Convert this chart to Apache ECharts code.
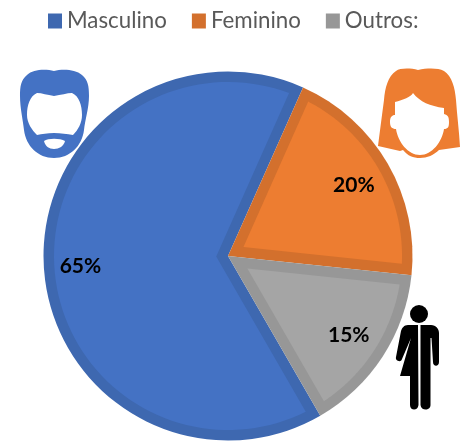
<!DOCTYPE html>
<html><head><meta charset="utf-8">
<style>html,body{margin:0;padding:0;background:#fff}#c{width:466px;height:441px}</style>
<script src="https://cdn.jsdelivr.net/npm/echarts@6/dist/echarts.min.js"></script>
</head><body><div id="c"></div>
<script>
const categories = ['Masculino','Feminino','Outros:'];
const values = [65,20,15];
const edgeColors = ['#3e68b0','#d3702d','#979797'];
const fillColors = ['#4472c4','#ed7d31','#a5a5a5'];
const labelNudges = [[1,2],[-3,4],[-4,-2]];

const CX = 228, CY = 256, R = 184.5, INSET = 10.5, START = 150;
const total = values.reduce((a,b)=>a+b,0);
const rad = d => (d-90)*Math.PI/180;
function startOf(i){ let s = START; for(let k=0;k<i;k++) s += values[k]/total*360; return s; }
function insetPoints(i){
  const a0 = startOf(i), span = values[i]/total*360, half = span/2;
  const r = R-INSET, da = Math.asin(INSET/r)*180/Math.PI;
  const bis = a0+half, ap = INSET/Math.sin(half*Math.PI/180);
  const pts = [[CX+ap*Math.cos(rad(bis)), CY+ap*Math.sin(rad(bis))]];
  const n = 90;
  for(let k=0;k<=n;k++){
    const a = a0+da+(span-2*da)*k/n;
    pts.push([CX+r*Math.cos(rad(a)), CY+r*Math.sin(rad(a))]);
  }
  return pts;
}
const pieData = categories.map((n,i)=>({name:n,value:values[i],itemStyle:{color:edgeColors[i]}}));
const labelData = categories.map((n,i)=>({name:n,value:values[i],itemStyle:{color:'transparent'},label:{offset:labelNudges[i]}}));
const iconPaths = {
  manOuter:'M54 71C46 69 33 69 27 75C21 80 20 86 20 96C20 108 23 120 24 130C26 146 38 158 54 158C70 158 82 146 84 130C85 120 89 108 89 96C89 86 88 80 82 75C75 69 62 69 54 71Z',
  manFace:'M54 96C47 95 42 93 37 93C30 96 27 105 27 115C27 123 32 130 37 135C42 134 47 133 54 133C61 133 67 134 73 135C78 130 82 123 82 115C82 105 79 96 72 93C67 93 61 95 54 96Z',
  manMouth:'M44 141C48 138 60 138 65 141C64 146 59 149 54 149C49 149 45 146 44 141Z',
  womanHair:'M418 70C410 68 400 68 396 71C388 76 385 88 384 100C382 115 380 130 378 146L400 151L403 150C408 156 413 158 420 158C427 158 434 155 439 150L460 147C459 130 457 115 456 100C455 88 452 76 444 71C438 68 428 68 418 70Z',
  womanFace:'M413 93C411 97 403 100 395 102L395 115C392 115 390 117 390 122C390 127 392 129 396 129C398 142 408 155 420 155C432 155 442 142 444 129C448 129 449 127 449 122C449 117 448 115 444 114L444 108C430 106 420 102 413 93Z',
  personLeft:'M418 325L408 325C404 325 402 328 401 331L396 357C395 361 401 363 402 359L411 338L400 376L410 376L410 405C410 411 418 411 418.5 405Z',
  personRight:'M420.5 325L431 325C436 325 439 329 439 333L439 362C439 367 433 367 433 362L431.5 338L430.5 338L430.5 405C430.5 411 421 411 420.5 405Z'
};
Object.keys(iconPaths).forEach(k=>echarts.graphic.registerShape(k,echarts.graphic.extendPath(iconPaths[k])));
const icon = (k,c)=>({type:k,silent:true,style:{fill:c}});

const chart = echarts.init(document.getElementById('c'),null,{renderer:'canvas'});
chart.setOption({
  animation:false,
  backgroundColor:'#fff',
  legend:{
    data:categories,left:43,top:5,itemWidth:14,itemHeight:15,itemGap:25,
    icon:'rect',selectedMode:false,
    textStyle:{fontFamily:'Lato',fontSize:22.3,color:'#595959'}
  },
  series:[
    {type:'pie',z:2,center:[CX,CY],radius:[0,R],startAngle:90-START,clockwise:true,silent:true,
     data:pieData,label:{show:false},labelLine:{show:false},emphasis:{disabled:true}},
    {type:'custom',z:3,coordinateSystem:'none',silent:true,
     data:values.map(v=>[v]),
     renderItem:(p,api)=>({type:'polygon',shape:{points:insetPoints(p.dataIndex)},style:{fill:fillColors[p.dataIndex]}})},
    {type:'pie',z:4,center:[CX,CY],radius:[107,R],startAngle:90-START,clockwise:true,silent:true,
     data:labelData,labelLine:{show:false},emphasis:{disabled:true},
     label:{show:true,position:'inside',formatter:'{d}%',fontFamily:'Lato',fontWeight:'bold',fontSize:21,color:'#000',textBorderWidth:0}}
  ],
  graphic:[
    icon('manOuter','#4472c4'),icon('manFace','#fff'),icon('manMouth','#fff'),
    icon('womanHair','#ed7d31'),icon('womanFace','#fff'),
    {type:'circle',silent:true,shape:{cx:419,cy:314,r:9},style:{fill:'#000'}},
    icon('personLeft','#000'),icon('personRight','#000')
  ]
});
</script></body></html>
